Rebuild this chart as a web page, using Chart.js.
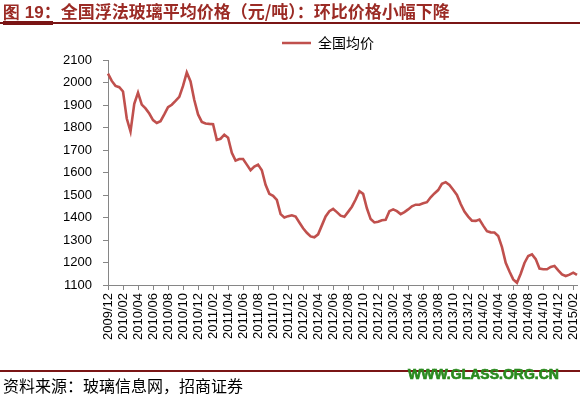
<!DOCTYPE html>
<html>
<head>
<meta charset="utf-8">
<script src="https://cdn.jsdelivr.net/npm/chart.js@4.4.0/dist/chart.umd.min.js"></script>
<style>
  html, body { margin: 0; padding: 0; background: #fff; }
  #wrap { position: relative; width: 580px; height: 397px; overflow: hidden; }
  #chart { position: absolute; left: 0; top: 0; }
  .title { position: absolute; left: 3px; top: -2px; line-height: 22px; font: bold 17px "Noto Sans CJK SC", sans-serif; color: #9b2b25; white-space: nowrap; z-index: 2; }
  .title b { font-family: "Liberation Sans", sans-serif; }
  .rule { position: absolute; background: #7a1515; z-index: 2; }
  .source { position: absolute; left: 3px; top: 373px; line-height: 20px; font: 16px "Noto Sans CJK SC", sans-serif; color: #000; white-space: nowrap; z-index: 2; }
  .site { position: absolute; left: 408px; top: 366px; line-height: 18px; font: bold 14px "Liberation Sans", sans-serif; color: #2a8a1e; -webkit-text-stroke: 0.7px #2a8a1e; white-space: nowrap; z-index: 3; }
</style>
</head>
<body>
<div id="wrap">
  <div class="title"><b>图 19</b>：全国浮法玻璃平均价格（元/吨）：环比价格小幅下降</div>
  <div class="rule" style="left:0;top:22px;width:580px;height:2px;"></div>
  <div class="rule" style="left:3px;top:21px;width:50px;height:4px;"></div>
  <canvas id="chart" width="580" height="397"></canvas>
  <div class="rule" style="left:0;top:370px;width:580px;height:2px;"></div>
  <div class="source">资料来源：玻璃信息网，招商证券</div>
  <div class="site">WWW.GLASS.ORG.CN</div>
</div>
<script>
// tick labels, one every two months
const tickLabels = ["2009/12","2010/02","2010/04","2010/06","2010/08","2010/10","2010/12",
  "2011/02","2011/04","2011/06","2011/08","2011/10","2011/12",
  "2012/02","2012/04","2012/06","2012/08","2012/10","2012/12",
  "2013/02","2013/04","2013/06","2013/08","2013/10","2013/12",
  "2014/02","2014/04","2014/06","2014/08","2014/10","2014/12","2015/02"];

// half-month readings of the national average float glass price (yuan/ton)
const prices = [2039,2007,1985,1979,1960,1840,1782,1905,1955,1902,
  1885,1862,1833,1820,1828,1858,1890,1901,1918,1936,
  1985,2045,2005,1922,1858,1825,1818,1816,1815,1745,
  1750,1768,1755,1688,1653,1660,1660,1635,1610,1626,
  1635,1610,1545,1505,1496,1478,1415,1400,1406,1410,
  1404,1378,1352,1332,1316,1312,1325,1365,1405,1428,
  1438,1424,1408,1403,1425,1448,1480,1517,1505,1441,
  1393,1378,1381,1388,1390,1428,1436,1428,1415,1424,
  1436,1450,1457,1457,1463,1468,1490,1507,1522,1550,
  1557,1545,1523,1500,1460,1426,1404,1386,1385,1391,
  1364,1339,1334,1333,1318,1268,1199,1160,1125,1110,
  1150,1198,1229,1236,1215,1173,1170,1170,1180,1185,
  1165,1147,1140,1146,1155,1145];

const seriesName = "全国均价";
const lineColor = "#c0504d";
const axisColor = "#868686";

// each tick label covers four half-month points
const categories = prices.map((_, i) => tickLabels[Math.floor(i / 4)] || tickLabels[tickLabels.length - 1]);

const legendShift = {
  id: "legendShift",
  afterLayout(chart) {
    const lg = chart.legend;
    const d = 328 - (lg.left + lg.right) / 2;
    lg.left += d;
    lg.right += d;
  }
};

new Chart(document.getElementById("chart").getContext("2d"), {
  type: "line",
  data: {
    labels: categories,
    datasets: [{
      label: seriesName,
      data: prices,
      borderColor: lineColor,
      backgroundColor: lineColor,
      borderWidth: 2.6,
      pointRadius: 0,
      pointStyle: "line",
      tension: 0
    }]
  },
  options: {
    responsive: false,
    animation: false,
    devicePixelRatio: 1,
    layout: { padding: { top: 34, right: 3, left: 0, bottom: 0 } },
    plugins: {
      tooltip: { enabled: false },
      legend: {
        labels: {
          usePointStyle: true,
          pointStyleWidth: 29,
          padding: 2,
          color: "#000",
          font: { size: 14, family: '"Noto Sans CJK SC", sans-serif' }
        }
      }
    },
    scales: {
      x: {
        grid: { drawOnChartArea: false, tickLength: 5, color: axisColor },
        border: { color: axisColor, width: 1 },
        ticks: {
          autoSkip: false, maxRotation: 90, minRotation: 90, padding: 3,
          color: "#000", font: { size: 13, family: '"Liberation Sans", sans-serif' }
        },
        afterBuildTicks: s => { s.ticks = s.ticks.filter((t, i) => i % 4 === 0); },
        afterFit: s => { s.height = 112; s.paddingLeft = 0; s.paddingRight = 0; }
      },
      y: {
        min: 1100, max: 2100,
        grid: { drawOnChartArea: false, tickLength: 5, color: axisColor },
        border: { color: axisColor, width: 1 },
        ticks: {
          stepSize: 100, padding: 11,
          callback: v => String(v),
          color: "#000", font: { size: 13, family: '"Liberation Sans", sans-serif' }
        },
        afterFit: s => { s.width = 108; s.paddingTop = 0; s.paddingBottom = 0; }
      }
    }
  },
  plugins: [legendShift]
});
</script>
</body>
</html>
